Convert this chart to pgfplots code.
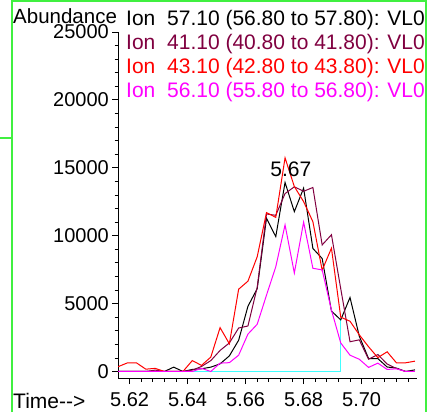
\documentclass[border=0pt]{standalone}
\usepackage{fontspec}
\setmainfont{Liberation Sans}[Ligatures=NoCommon]
\usepackage{pgfplots}
\usepackage{pgfplotstable}
\pgfplotsset{compat=1.18}

\definecolor{ionA}{RGB}{0,0,0}
\definecolor{ionB}{RGB}{128,0,64}
\definecolor{ionC}{RGB}{255,0,0}
\definecolor{ionD}{RGB}{255,0,255}
\definecolor{basecyan}{RGB}{64,255,255}
\definecolor{winframe}{RGB}{64,240,64}

% time, ion 57.10, ion 41.10, ion 43.10, ion 56.10
\pgfplotstableread{
t      k57    k41    k43    k56
5.6160 0      0      350    0
5.6192 0      0      630    0
5.6224 0      0      630    0
5.6256 0      0      170    0
5.6288 0      100    230    0
5.6320 0      0      0      0
5.6352 320    0      0      0
5.6384 0      0      0      0
5.6416 150    100    800    0
5.6448 200    370    450    230
5.6480 320    800    1060   0
5.6512 560    1550   3230   615
5.6544 1150   2100   2040   650
5.6576 2300   3200   6060   1200
5.6608 4800   3350   6650   2750
5.6640 6100   6200   8450   3480
5.6672 11280  11600  11700  5620
5.6704 9930   11500  11350  7710
5.6736 13920  13100  15730  10800
5.6768 11770  13600  13620  7250
5.6800 13500  13270  12510  11000
5.6832 9060   13550  11030  7600
5.6864 8320   9320   7460   7480
5.6896 4450   10070  9080   4520
5.6928 3800   6100   4000   2100
5.6960 5450   2190   3700   1200
5.6992 2600   2330   2700   900
5.7024 950    900    1820   300
5.7056 950    1250   1020   615
5.7088 330    550    1450   150
5.7120 250    220    640    200
5.7152 0      0      640    0
5.7184 120    0      760    0
}\ionsdata

\begin{document}
\begin{tikzpicture}[x=1pt,y=1pt]
\useasboundingbox (0,0) rectangle (427,412);
% window frame
\draw[winframe, line width=2pt] (12,0) -- (12,412);
\draw[winframe, line width=2pt] (12,411) -- (427,411);
\draw[winframe, line width=2pt] (426,0) -- (426,412);
\draw[winframe, line width=2pt] (0,274) -- (12,274);

\begin{axis}[
  at={(118pt,34pt)}, anchor=south west,
  scale only axis, width=299pt, height=346pt,
  xmin=5.616, xmax=5.7191, ymin=-480, ymax=25000,
  axis lines=left, axis line style={-, line width=1pt},
  tick align=outside,
  major tick length=6pt, minor tick length=3.5pt,
  tick style={black, line width=0.8pt},
  xtick={5.62,5.64,5.66,5.68,5.70},
  xticklabels={5.62,5.64,5.66,5.68,5.70},
  minor xtick={5.624,5.628,5.632,5.636,5.644,5.648,5.652,5.656,5.664,5.668,5.672,5.676,5.684,5.688,5.692,5.696,5.704,5.708,5.712,5.716},
  ytick={0,5000,10000,15000,20000,25000},
  minor y tick num=4,
  scaled ticks=false,
  /pgf/number format/1000 sep={},
  /pgf/number format/assume math mode=true,
  ticklabel style={font=\fontsize{20}{20}\selectfont, inner sep=0pt},
  xticklabel style={yshift=-8pt},
  yticklabel style={xshift=-3pt},
  every axis plot/.append style={line width=1pt},
]
\addplot[basecyan, line width=1.3pt] coordinates {(5.6416,0) (5.6928,0) (5.6928,3900)};
\addplot[ionA] table[x=t, y=k57] {\ionsdata};
\addplot[ionB] table[x=t, y=k41] {\ionsdata};
\addplot[ionC] table[x=t, y=k43] {\ionsdata};
\addplot[ionD] table[x=t, y=k56] {\ionsdata};
\node[anchor=base, inner sep=0pt, font=\fontsize{21}{21}\selectfont] at (axis cs:5.6756,14390) {5.67};
\end{axis}

\begin{scope}[every node/.style={anchor=base west, inner sep=0pt, font=\fontsize{21}{21}\selectfont}]
\node[font=\fontsize{20.5}{20.5}\selectfont] at (13,388.5) {Abundance};
\node[ionA] at (126,386.5) {Ion};
\node[ionA] at (167,386.5) {57.10 (56.80 to 57.80): VL0};
\node[ionB] at (126,362.5) {Ion};
\node[ionB] at (167,362.5) {41.10 (40.80 to 41.80): VL0};
\node[ionC] at (126,338.5) {Ion};
\node[ionC] at (167,338.5) {43.10 (42.80 to 43.80): VL0};
\node[ionD] at (126,314.5) {Ion};
\node[ionD] at (167,314.5) {56.10 (55.80 to 56.80): VL0};
\node at (13,4) {Time-{}->};
\end{scope}
\end{tikzpicture}
\end{document}
